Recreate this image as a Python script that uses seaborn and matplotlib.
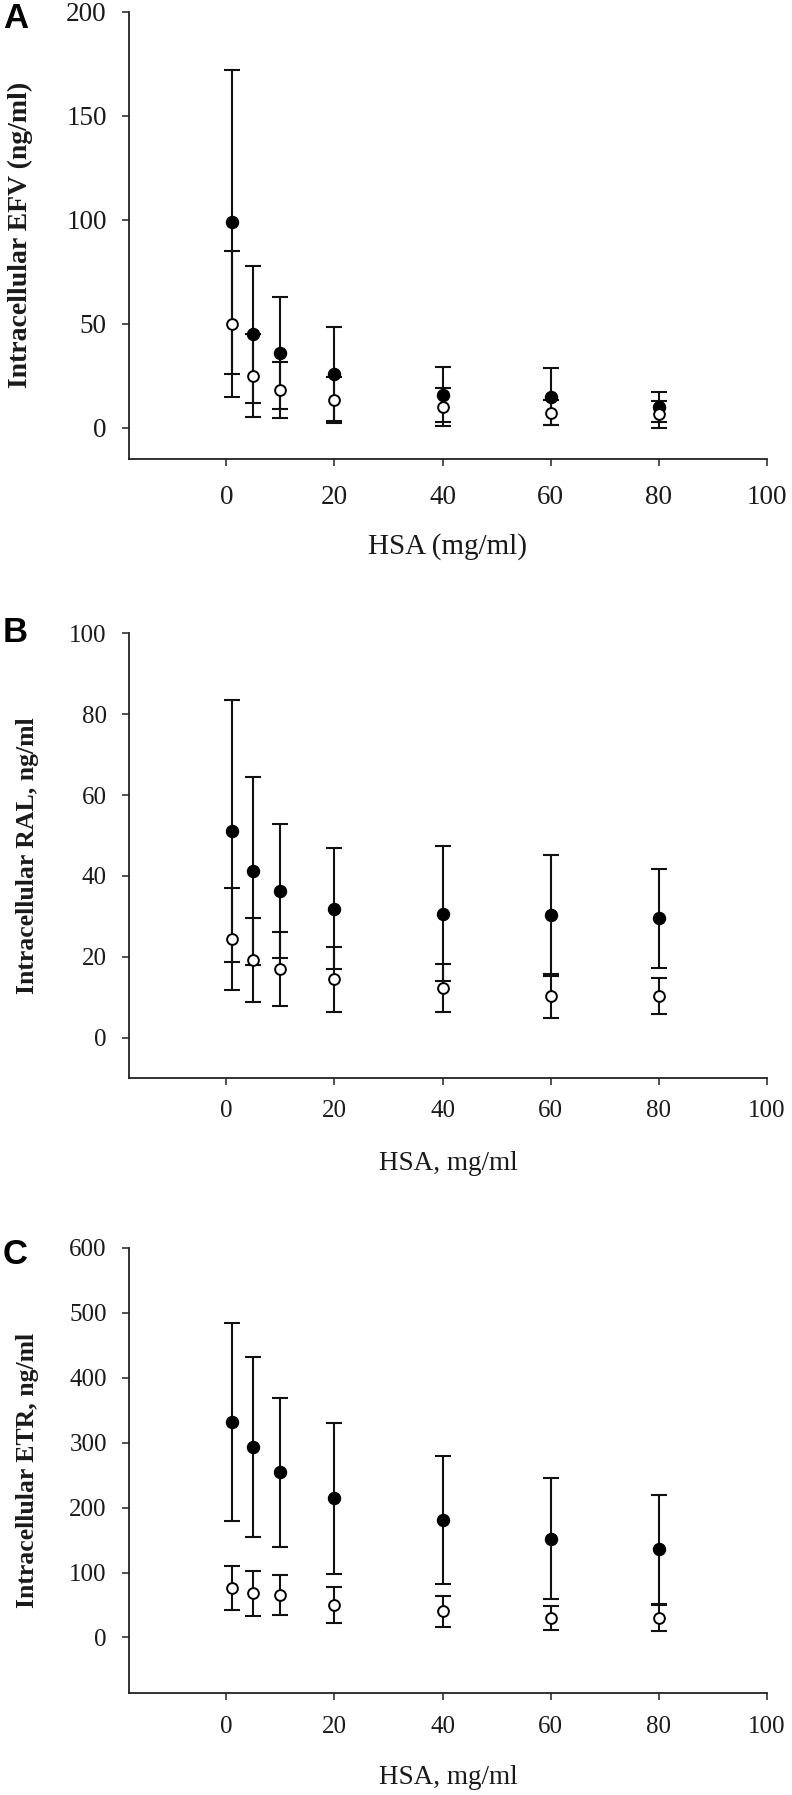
import numpy as np
import pandas as pd
import matplotlib
matplotlib.use("Agg")
import matplotlib.pyplot as plt
import seaborn as sns

# ---------------- data ----------------
hsa = [1, 5, 10, 20, 40, 60, 80]

efv_filled_mean = [99, 45, 36, 26, 16, 15, 10]
efv_filled_sd = [73, 33, 27, 22.5, 13, 13.7, 7.3]
efv_open_mean = [50, 25, 18, 13.3, 10, 7.2, 6.4]
efv_open_sd = [35, 20, 13.5, 11, 9, 6, 6.6]

ral_filled_mean = [51, 41.2, 36.2, 31.9, 30.6, 30.2, 29.5]
ral_filled_sd = [32.4, 23.3, 16.6, 15, 16.7, 14.9, 12.2]
ral_open_mean = [24.3, 19.2, 17, 14.4, 12.2, 10.3, 10.3]
ral_open_sd = [12.6, 10.3, 9.1, 8, 5.9, 5.4, 4.4]

etr_filled_mean = [332, 293, 254, 214, 181, 152, 136]
etr_filled_sd = [152, 139, 114, 116, 98, 93, 84]
etr_open_mean = [76, 68, 65, 50, 40, 30, 30]
etr_open_sd = [34, 35, 31, 27, 24, 18, 20]

panel_letters = ["A", "B", "C"]
ylabels = ["Intracellular EFV (ng/ml)", "Intracellular RAL, ng/ml", "Intracellular ETR, ng/ml"]
xlabels = ["HSA (mg/ml)", "HSA, mg/ml", "HSA, mg/ml"]
yticks_list = [[0, 50, 100, 150, 200], [0, 20, 40, 60, 80, 100], [0, 100, 200, 300, 400, 500, 600]]
ylims = [(-15, 200), (-10, 100), (-85, 600)]
xticks = [0, 20, 40, 60, 80, 100]

# ---------------- style ----------------
sns.set_theme(style="ticks")
plt.rcParams["font.family"] = ["Liberation Serif", "DejaVu Serif"]

W, H = 792, 1795
fig = plt.figure(figsize=(W / 100, H / 100), dpi=100)

# axes boxes in pixels: (left, top, right, bottom)
boxes = [(129, 11.7, 767, 459), (129, 633.3, 767, 1078), (129, 1247.7, 767, 1692.7)]
letter_y = [19, 633, 1255]
tick_fs = [19.5, 18, 18]
xpad = [14, 11, 12]
ylab_fs = [20, 18.5, 18.5]
xlab_fs = [21, 19.5, 19.5]
ylab_x = [20, 28, 28]
xlab_off = [88, 86, 85]

series = [
    (efv_filled_mean, efv_filled_sd, efv_open_mean, efv_open_sd),
    (ral_filled_mean, ral_filled_sd, ral_open_mean, ral_open_sd),
    (etr_filled_mean, etr_filled_sd, etr_open_mean, etr_open_sd),
]

for i, (l, t, r, b) in enumerate(boxes):
    ax = fig.add_axes([l / W, 1 - b / H, (r - l) / W, (b - t) / H])
    fm, fsd, om, osd = series[i]
    df = pd.DataFrame({"HSA": hsa, "filled": fm, "filled_sd": fsd, "open": om, "open_sd": osd})

    ax.errorbar(df["HSA"], df["filled"], yerr=df["filled_sd"], fmt="none", ecolor="#111111",
                elinewidth=1.5, capsize=5.5, capthick=1.5, zorder=2)
    ax.errorbar(df["HSA"], df["open"], yerr=df["open_sd"], fmt="none", ecolor="#111111",
                elinewidth=1.5, capsize=5.5, capthick=1.5, zorder=3)
    sns.scatterplot(data=df, x="HSA", y="filled", ax=ax, color="black", edgecolor="black",
                    s=75, linewidth=1, zorder=4)
    sns.scatterplot(data=df, x="HSA", y="open", ax=ax, facecolor="white", edgecolor="black",
                    s=60, linewidth=1.4, zorder=5)

    ax.set_xlim(-18, 100)
    ax.set_ylim(*ylims[i])
    ax.set_xticks(xticks)
    ax.set_yticks(yticks_list[i])
    for sp in ["top", "right"]:
        ax.spines[sp].set_visible(False)
    for sp in ["left", "bottom"]:
        ax.spines[sp].set_linewidth(1.3)
        ax.spines[sp].set_color("#222222")
    ax.tick_params(axis="both", direction="out", length=5, width=1.1, color="#222222",
                   labelsize=tick_fs[i], labelcolor="#1a1a1a")
    ax.tick_params(axis="x", pad=xpad[i])
    ax.tick_params(axis="y", pad=11)

    ax.set_xlabel(xlabels[i], fontsize=xlab_fs[i], color="#1a1a1a")
    ax.xaxis.set_label_coords(0.5, -xlab_off[i] / (b - t))
    ax.xaxis.label.set_va("center")
    ax.set_ylabel(ylabels[i], fontsize=ylab_fs[i], fontweight="bold", color="#1a1a1a")
    ax.yaxis.label.set_va("center")
    ax.yaxis.set_label_coords((ylab_x[i] - l) / (r - l), 0.5)

    fig.text(3 / W, 1 - letter_y[i] / H, panel_letters[i], fontsize=25, fontweight="bold",
             family=["Liberation Sans", "DejaVu Sans"], ha="left", va="center", color="black")

fig.savefig("out.png", dpi=100, facecolor="white")
